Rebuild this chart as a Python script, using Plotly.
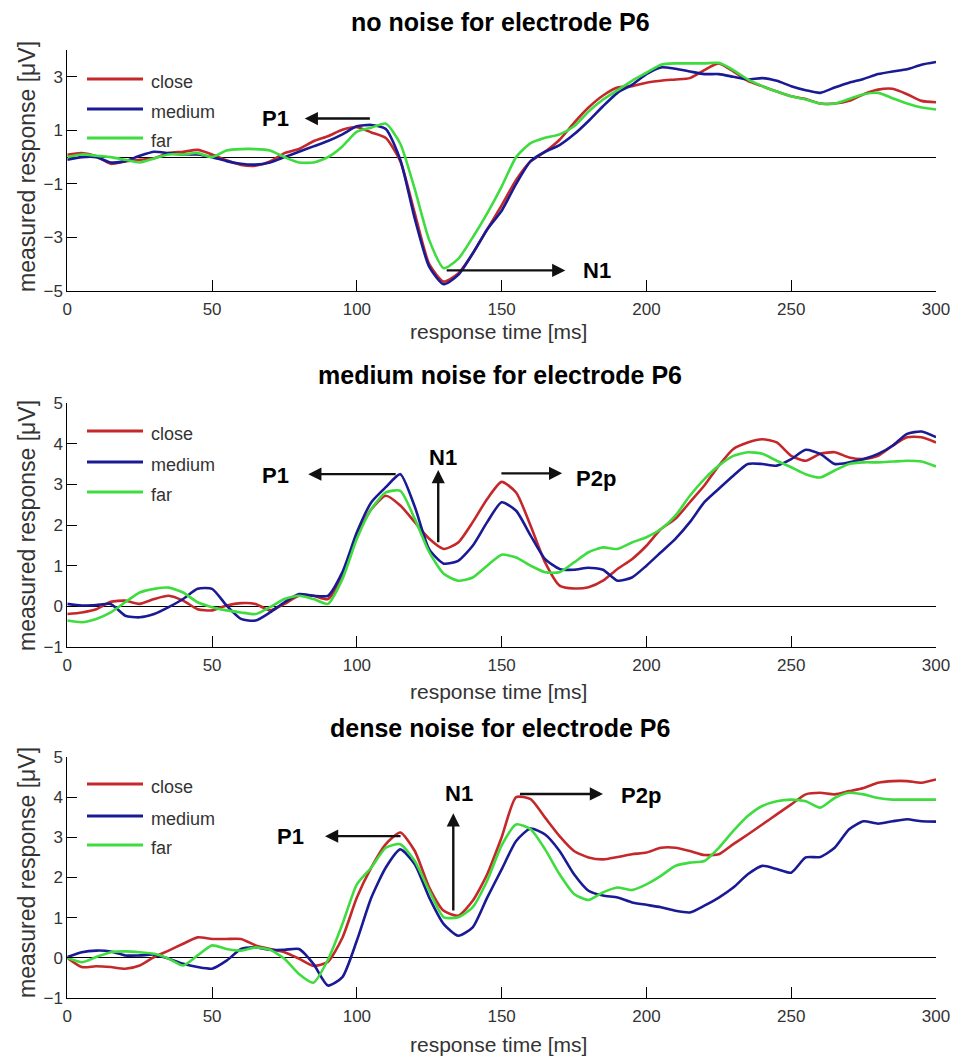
import plotly.graph_objects as go

# ---------------- data ----------------
time_ms = list(range(0, 301, 5))
series_names = ["close", "medium", "far"]
series_colors = ["#c4282a", "#1a1a94", "#3fdc3f"]

panel_titles = ["no noise for electrode P6",
                "medium noise for electrode P6",
                "dense noise for electrode P6"]
x_title = "response time [ms]"
y_title = "measured response [μV]"
x_ticks = [0, 50, 100, 150, 200, 250, 300]
y_ticks_top = [-5, -3, -1, 1, 3]
y_ticks_other = [-1, 0, 1, 2, 3, 4, 5]

no_noise_close = [0.09, 0.15, 0.03, -0.25, -0.16, -0.1, -0.04, 0.15, 0.2, 0.27, 0.1,
                  -0.12, -0.29, -0.32, -0.16, 0.15, 0.3, 0.59, 0.78, 1.02, 1.12,
                  0.92, 0.71, -0.15, -2.1, -4.0, -4.65, -4.35, -3.6, -2.7, -1.8,
                  -0.85, -0.16, 0.2, 0.65, 1.28, 1.85, 2.3, 2.6, 2.65, 2.78,
                  2.85, 2.9, 2.95, 3.25, 3.5, 3.2, 2.85, 2.65, 2.45, 2.27,
                  2.17, 2.0, 2.0, 2.1, 2.35, 2.52, 2.55, 2.35, 2.1, 2.05]
no_noise_medium = [-0.1, 0.0, 0.0, -0.2, -0.15, 0.05, 0.2, 0.15, 0.1, 0.1, 0.0,
                   -0.15, -0.25, -0.28, -0.2, 0.0, 0.2, 0.4, 0.6, 0.85, 1.15,
                   1.2, 1.05, -0.1, -2.3, -4.1, -4.75, -4.4, -3.6, -2.7, -2.0,
                   -1.0, -0.15, 0.2, 0.45, 0.85, 1.35, 1.9, 2.4, 2.7, 3.1,
                   3.35, 3.3, 3.2, 3.1, 3.1, 3.0, 2.9, 2.95, 2.85, 2.65,
                   2.5, 2.4, 2.6, 2.78, 2.92, 3.1, 3.2, 3.28, 3.45, 3.55]
no_noise_far = [0.0, 0.1, 0.05, 0.0, -0.1, -0.2, -0.05, 0.1, 0.1, 0.15, 0.0,
                0.25, 0.3, 0.3, 0.25, 0.0, -0.2, -0.2, 0.0, 0.4, 0.95,
                1.1, 1.25, 0.5, -1.2, -3.1, -4.15, -3.8, -3.0, -2.1, -1.1,
                0.0, 0.52, 0.72, 0.85, 1.15, 1.7, 2.15, 2.5, 2.85, 3.15,
                3.45, 3.5, 3.5, 3.5, 3.52, 3.25, 2.9, 2.65, 2.45, 2.27,
                2.15, 2.0, 2.0, 2.17, 2.35, 2.4, 2.2, 2.0, 1.85, 1.78]

medium_noise_close = [-0.19, -0.15, -0.07, 0.11, 0.14, 0.06, 0.18, 0.26, 0.14, -0.07, -0.1,
                      0.02, 0.08, 0.06, -0.1, 0.06, 0.26, 0.26, 0.18, 0.75, 1.74,
                      2.39, 2.72, 2.48, 2.07, 1.66, 1.41, 1.57, 2.07, 2.64, 3.06,
                      2.8, 1.98, 1.08, 0.51, 0.44, 0.47, 0.63, 0.92, 1.16, 1.49,
                      1.9, 2.15, 2.56, 2.97, 3.46, 3.87, 4.03, 4.11, 4.03, 3.7,
                      3.58, 3.75, 3.79, 3.66, 3.62, 3.7, 3.95, 4.16, 4.16, 4.03]
medium_noise_medium = [0.06, 0.02, 0.03, 0.06, -0.23, -0.27, -0.19, -0.02, 0.18, 0.43, 0.43,
                       0.02, -0.31, -0.35, -0.15, 0.1, 0.3, 0.26, 0.26, 0.84, 1.82,
                       2.56, 2.93, 3.25, 2.45, 1.4, 1.05, 1.12, 1.49, 2.07, 2.56,
                       2.35, 1.74, 1.16, 0.92, 0.9, 0.95, 0.9, 0.63, 0.71, 1.0,
                       1.33, 1.66, 2.07, 2.56, 2.89, 3.21, 3.5, 3.5, 3.46, 3.62,
                       3.85, 3.75, 3.5, 3.54, 3.62, 3.75, 3.95, 4.24, 4.3, 4.16]
medium_noise_far = [-0.35, -0.39, -0.31, -0.15, 0.1, 0.34, 0.43, 0.46, 0.34, 0.1, -0.02,
                    -0.1, -0.15, -0.19, -0.02, 0.18, 0.26, 0.18, 0.06, 0.67, 1.66,
                    2.39, 2.8, 2.84, 2.15, 1.33, 0.8, 0.63, 0.71, 1.0, 1.27,
                    1.2, 1.0, 0.84, 0.84, 1.08, 1.33, 1.45, 1.41, 1.57, 1.7,
                    1.9, 2.23, 2.72, 3.13, 3.46, 3.7, 3.79, 3.75, 3.58, 3.42,
                    3.25, 3.17, 3.34, 3.5, 3.54, 3.54, 3.56, 3.58, 3.56, 3.44]

dense_noise_close = [0.0, -0.23, -0.21, -0.23, -0.27, -0.19, 0.02, 0.18, 0.35, 0.51, 0.47,
                     0.47, 0.47, 0.31, 0.22, 0.14, -0.02, -0.2, -0.1, 0.5, 1.5,
                     2.25, 2.83, 3.12, 2.66, 1.75, 1.17, 1.05, 1.42, 2.08, 3.0,
                     4.0, 3.95, 3.49, 3.03, 2.66, 2.5, 2.45, 2.51, 2.58, 2.62,
                     2.74, 2.74, 2.66, 2.56, 2.58, 2.83, 3.07, 3.32, 3.57, 3.82,
                     4.07, 4.11, 4.07, 4.15, 4.23, 4.36, 4.4, 4.4, 4.36, 4.44]
dense_noise_medium = [0.02, 0.14, 0.18, 0.16, 0.06, 0.06, 0.08, -0.02, -0.15, -0.23, -0.27,
                      -0.07, 0.22, 0.26, 0.2, 0.2, 0.22, -0.15, -0.69, -0.48, 0.43,
                      1.5, 2.25, 2.7, 2.33, 1.5, 0.84, 0.55, 0.76, 1.5, 2.2,
                      2.91, 3.22, 3.07, 2.66, 2.08, 1.67, 1.55, 1.5, 1.38, 1.32,
                      1.26, 1.17, 1.13, 1.3, 1.5, 1.75, 2.08, 2.29, 2.21, 2.12,
                      2.5, 2.51, 2.74, 3.2, 3.4, 3.34, 3.4, 3.45, 3.4, 3.39]
dense_noise_far = [0.0, -0.11, 0.02, 0.14, 0.16, 0.14, 0.1, -0.02, -0.19, 0.06, 0.31,
                   0.22, 0.18, 0.26, 0.2, -0.02, -0.4, -0.62, -0.05, 0.84, 1.83,
                   2.25, 2.74, 2.83, 2.41, 1.67, 1.01, 1.01, 1.26, 1.92, 2.8,
                   3.32, 3.2, 2.7, 2.08, 1.59, 1.44, 1.63, 1.75, 1.69, 1.83,
                   2.04, 2.29, 2.37, 2.41, 2.74, 3.16, 3.53, 3.78, 3.9, 3.94,
                   3.9, 3.74, 3.98, 4.11, 4.07, 3.98, 3.94, 3.94, 3.94, 3.94]

panels = [
    [no_noise_close, no_noise_medium, no_noise_far],
    [medium_noise_close, medium_noise_medium, medium_noise_far],
    [dense_noise_close, dense_noise_medium, dense_noise_far],
]

# peak labels: (text, label x, label y, arrow tail x, tail y, head x, head y)
peak_marks = [
    [("P1", 71.8, 1.44, 105, 1.44, 82, 1.44),
     ("N1", 183, -4.23, 130.5, -4.23, 172, -4.23)],
    [("P1", 71.8, 3.22, 113.9, 3.25, 83.2, 3.25),
     ("N1", 129.8, 3.67, 128.1, 1.54, 128.1, 3.35),
     ("P2p", 182.7, 3.15, 149.4, 3.27, 170.9, 3.27)],
    [("P1", 77, 3.01, 115.6, 3.03, 89, 3.03),
     ("N1", 135.3, 4.1, 133.3, 1.14, 133.3, 3.6),
     ("P2p", 198.2, 4.05, 155.8, 4.08, 185, 4.08)],
]

# ---------------- layout helpers ----------------
W, H = 954, 1061
FONT = "Liberation Sans, Arial, Helvetica, sans-serif"


def px(x):
    return x / W


def py(y):
    return 1 - y / H


panel_px = [(50, 291), (403, 647), (757, 998)]
x_left, x_right = 67.3, 936
title_y = [22, 375, 728]
xtitle_y = [331, 691, 1044]
ytitle_y = [167, 526, 873]
legend_y = [(79, 109, 138), (431, 462, 492), (784, 816, 845)]

fig = go.Figure()
annotations = []
shapes = []

for p in range(3):
    xa = "x" if p == 0 else f"x{p + 1}"
    ya = "y" if p == 0 else f"y{p + 1}"
    for s in range(3):
        fig.add_trace(go.Scatter(
            x=time_ms, y=panels[p][s], mode="lines", name=series_names[s],
            line=dict(color=series_colors[s], width=2.6, shape="spline", smoothing=0.6),
            xaxis=xa, yaxis=ya, showlegend=False))

    top, bot = panel_px[p]
    xkey = "xaxis" if p == 0 else f"xaxis{p + 1}"
    ykey = "yaxis" if p == 0 else f"yaxis{p + 1}"
    fig.update_layout(**{
        xkey: dict(domain=[px(x_left), px(x_right)], range=[0, 300], anchor=ya,
                   tickvals=x_ticks, ticks="inside", ticklen=11, tickcolor="black",
                   showline=True, linecolor="black", linewidth=1, mirror=False,
                   showgrid=False, zeroline=False, automargin=False,
                   ticklabelstandoff=3,
                   tickfont=dict(family=FONT, size=17, color="#333")),
        ykey: dict(domain=[py(bot), py(top)], anchor=xa,
                   range=[-5, 4] if p == 0 else [-1, 5],
                   tickvals=y_ticks_top if p == 0 else y_ticks_other,
                   ticks="inside", ticklen=10, tickcolor="black",
                   showline=True, linecolor="black", linewidth=1, mirror=False,
                   showgrid=False, zeroline=True, zerolinecolor="black", zerolinewidth=1,
                   automargin=False,
                   tickfont=dict(family=FONT, size=17, color="#333")),
    })

    annotations.append(dict(text=f"<b>{panel_titles[p]}</b>", x=px(500), y=py(title_y[p]),
                            xref="paper", yref="paper", showarrow=False,
                            xanchor="center", yanchor="middle",
                            font=dict(family=FONT, size=25, color="black")))
    annotations.append(dict(text=x_title, x=px(498), y=py(xtitle_y[p]),
                            xref="paper", yref="paper", showarrow=False,
                            xanchor="center", yanchor="middle",
                            font=dict(family=FONT, size=21, color="#333")))
    annotations.append(dict(text=y_title, x=px(27), y=py(ytitle_y[p]), textangle=-90,
                            xref="paper", yref="paper", showarrow=False,
                            xanchor="center", yanchor="middle",
                            font=dict(family=FONT, size=23, color="#333")))
    for s in range(3):
        ly = legend_y[p][s]
        shapes.append(dict(type="line", xref="paper", yref="paper",
                           x0=px(87), x1=px(143), y0=py(ly), y1=py(ly),
                           line=dict(color=series_colors[s], width=3)))
        annotations.append(dict(text=series_names[s], x=px(149), y=py(ly + 3),
                                xref="paper", yref="paper", showarrow=False,
                                xanchor="left", yanchor="middle",
                                font=dict(family=FONT, size=18, color="#333")))
    for (txt, lx, lyv, tx, ty, hx, hy) in peak_marks[p]:
        annotations.append(dict(text=f"<b>{txt}</b>", x=lx, y=lyv, xref=xa, yref=ya,
                                showarrow=False, xanchor="center", yanchor="middle",
                                font=dict(family=FONT, size=22, color="black")))
        annotations.append(dict(text="", x=hx, y=hy, ax=tx, ay=ty,
                                xref=xa, yref=ya, axref=xa, ayref=ya,
                                showarrow=True, arrowhead=2, arrowsize=1.1,
                                arrowwidth=2.4, arrowcolor="#111", standoff=0,
                                startstandoff=0))

fig.update_layout(width=W, height=H, margin=dict(l=0, r=0, t=0, b=0),
                  paper_bgcolor="white", plot_bgcolor="white",
                  annotations=annotations, shapes=shapes, showlegend=False)

fig.write_html("out.html")
